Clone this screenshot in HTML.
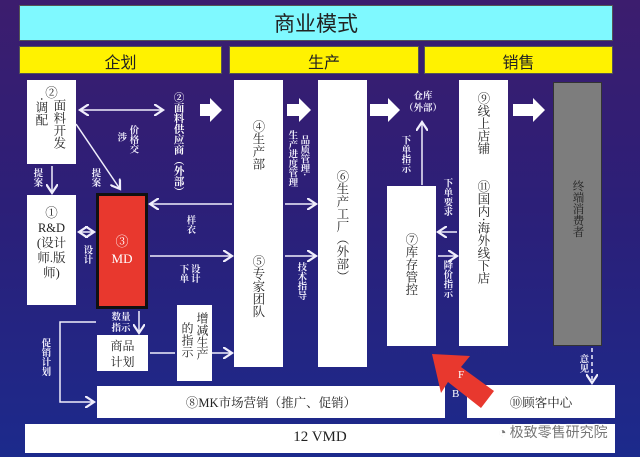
<!DOCTYPE html>
<html><head><meta charset="utf-8"><style>
*{margin:0;padding:0;box-sizing:border-box}
body{width:640px;height:457px;overflow:hidden;position:relative;
background:linear-gradient(180deg,#3c1d6e 0%,#2c1f78 45%,#1c2a8c 100%);
font-family:"Liberation Serif","Noto Serif CJK SC",serif;color:#222}
.a{position:absolute}
.box{position:absolute;background:#fff}
.v{position:absolute;writing-mode:vertical-rl;text-orientation:mixed;line-height:1.35;font-family:"Noto Serif CJK SC",serif}
.w{color:#f0eefc;font-size:9.5px;font-weight:bold;line-height:1.2}
.k{color:#222;font-size:12.5px}
svg{position:absolute;left:0;top:0}
</style></head><body>
<div class="box" style="left:19px;top:5px;width:594px;height:36px;background:#7ff9ff;border:1px solid #555"></div>
<div class="a" style="left:19px;top:8px;width:594px;text-align:center;font-size:21px;font-family:'Noto Sans CJK SC',sans-serif;color:#222">商业模式</div>
<div class="box" style="left:19px;top:46px;width:203px;height:28px;background:#fff200;border:1px solid #555"></div>
<div class="box" style="left:229px;top:46px;width:190px;height:28px;background:#fff200;border:1px solid #555"></div>
<div class="box" style="left:424px;top:46px;width:189px;height:28px;background:#fff200;border:1px solid #555"></div>
<div class="a" style="left:19px;top:49px;width:203px;text-align:center;font-size:16px;font-family:'Noto Sans CJK SC',sans-serif">企划</div>
<div class="a" style="left:229px;top:49px;width:190px;text-align:center;font-size:16px;font-family:'Noto Sans CJK SC',sans-serif">生产</div>
<div class="a" style="left:424px;top:49px;width:189px;text-align:center;font-size:16px;font-family:'Noto Sans CJK SC',sans-serif">销售</div>

<div class="box" style="left:27px;top:80px;width:49px;height:84px"></div>
<div class="box" style="left:27px;top:195px;width:49px;height:110px"></div>
<div class="box" style="left:96px;top:193px;width:52px;height:116px;background:#e8382e;border:3px solid #111"></div>
<div class="box" style="left:234px;top:80px;width:49px;height:287px"></div>
<div class="box" style="left:318px;top:80px;width:49px;height:287px"></div>
<div class="box" style="left:387px;top:186px;width:49px;height:160px"></div>
<div class="box" style="left:459px;top:80px;width:49px;height:266px"></div>
<div class="box" style="left:553px;top:82px;width:49px;height:264px;background:#7d7d7d;border:1px solid #333"></div>
<div class="box" style="left:97px;top:335px;width:51px;height:36px"></div>
<div class="box" style="left:177px;top:305px;width:35px;height:76px"></div>
<div class="box" style="left:97px;top:386px;width:348px;height:32px"></div>
<div class="box" style="left:467px;top:385px;width:148px;height:33px"></div>
<div class="box" style="left:25px;top:424px;width:590px;height:29px"></div>

<svg width="640" height="457">
<defs><marker id="m" markerWidth="8" markerHeight="8" refX="6" refY="4" orient="auto-start-reverse"><path d="M0,0 L6,4 L0,8" fill="none" stroke="#f0eefc" stroke-width="1.5"/></marker></defs>
<g fill="#fff">
<path d="M200,104 h10 v-6 l12,12 l-12,12 v-6 h-10z"/>
<path d="M287,104 h12 v-6 l12,12 l-12,12 v-6 h-12z"/>
<path d="M370,104 h18 v-6 l12,12 l-12,12 v-6 h-18z"/>
<path d="M513,104 h20 v-6 l12,12 l-12,12 v-6 h-20z"/>
</g>
<g stroke="#f0eefc" stroke-width="1.5" fill="none" marker-end="url(#m)">
<line x1="80" y1="110" x2="163" y2="110" marker-start="url(#m)"/>
<line x1="76" y1="124" x2="120" y2="189"/>
<line x1="52" y1="166" x2="52" y2="193"/>
<line x1="79" y1="232" x2="94" y2="232" marker-start="url(#m)"/>
<line x1="232" y1="204" x2="150" y2="204"/>
<line x1="150" y1="256" x2="232" y2="256"/>
<line x1="285" y1="204" x2="316" y2="204"/>
<line x1="285" y1="256" x2="316" y2="256"/>
<line x1="422" y1="185" x2="422" y2="122"/>
<line x1="457" y1="232" x2="438" y2="232"/>
<line x1="438" y1="256" x2="457" y2="256"/>
<line x1="139" y1="311" x2="139" y2="333"/>
<line x1="150" y1="353" x2="175" y2="353" marker-end="none"/>
<line x1="212" y1="353" x2="232" y2="353"/>
<polyline points="96,322 60,322 60,402 94,402"/>
<line x1="592" y1="348" x2="592" y2="383" stroke-dasharray="4,3"/>
</g>
<path d="M432,354 L470,356 L461,367 L494,391 L481,408 L448,382 L441,393 Z" fill="#e8382e"/>
<text x="458" y="378" fill="#fff" font-size="11" font-family="Liberation Serif">F</text>
<text x="452" y="397" fill="#fff" font-size="11" font-family="Liberation Serif">B</text>
</svg>

<div class="a k" style="left:27px;top:83px;width:49px;text-align:center">②</div>
<div class="v k" style="left:51px;top:99px">面料开发</div>
<div class="v k" style="left:33px;top:97px">·调配</div>
<div class="a k" style="left:27px;top:206px;width:49px;text-align:center;line-height:1.2;font-family:'Liberation Serif','Noto Serif CJK SC',serif">①<br>R&amp;D<br>(设计<br>师.版<br>师)</div>
<div class="a" style="left:96px;top:234px;width:52px;text-align:center;color:#fff;font-size:13px;line-height:1.3">③<br>MD</div>
<div class="v k" style="left:250px;top:120px">④生产部</div>
<div class="v k" style="left:250px;top:255px">⑤专家团队</div>
<div class="v k" style="left:334px;top:170px">⑥生产工厂（外部）</div>
<div class="v k" style="left:403px;top:233px">⑦库存管控</div>
<div class="v k" style="left:475px;top:92px">⑨线上店铺</div>
<div class="v k" style="left:475px;top:180px">⑪国内·海外线下店</div>
<div class="v" style="left:570px;top:180px;font-size:11.5px;color:#222">终端消费者</div>
<div class="a k" style="left:97px;top:338px;width:51px;text-align:center;line-height:1.35;font-family:'Noto Serif CJK SC',serif;font-size:12px">商品<br>计划</div>
<div class="v k" style="left:195px;top:312px;font-size:12px;line-height:1.25">增减生产</div>
<div class="v k" style="left:180px;top:322px;font-size:12px;line-height:1.25">的指示</div>
<div class="a k" style="left:97px;top:393px;width:348px;text-align:center;font-size:12.5px">⑧MK市场营销（推广、促销）</div>
<div class="a k" style="left:467px;top:393px;width:148px;text-align:center;font-size:12.5px">⑩顾客中心</div>
<div class="a" style="left:25px;top:429px;width:590px;text-align:center;font-size:15px;color:#222">12 VMD</div>

<div class="v w" style="left:172px;top:92px;font-size:10.5px;color:#fff">②面料供应商（外部）</div>
<div class="v w" style="left:128px;top:125px">价格交</div>
<div class="v w" style="left:116px;top:132px">涉</div>
<div class="v w" style="left:32px;top:168px">提案</div>
<div class="v w" style="left:90px;top:168px">提案</div>
<div class="v w" style="left:82px;top:245px">设计</div>
<div class="v w" style="left:185px;top:215px">样衣</div>
<div class="v w" style="left:178px;top:264px;height:24px">设计下单</div>
<div class="v w" style="left:299px;top:135px">品质管理·</div>
<div class="v w" style="left:287px;top:130px">生产进度管理</div>
<div class="v w" style="left:296px;top:262px">技术指导</div>
<div class="a w" style="left:403px;top:90px;width:40px;text-align:center;line-height:1.25;font-family:'Noto Serif CJK SC',serif">仓库<br>（外部）</div>
<div class="v w" style="left:400px;top:135px">下单指示</div>
<div class="v w" style="left:442px;top:178px">下单要求</div>
<div class="v w" style="left:442px;top:260px">降价指示</div>
<div class="a w" style="left:108px;top:311px;width:26px;text-align:center;font-family:'Noto Serif CJK SC',serif">数量<br>指示</div>
<div class="v w" style="left:40px;top:338px">促销计划</div>
<div class="v w" style="left:578px;top:354px">意见</div>
<div class="a" style="left:498px;top:422px;font-size:14px;color:#777;font-family:'Noto Sans CJK SC',sans-serif;text-shadow:0 0 2px #fff,0 0 2px #fff">◔ 极致零售研究院</div>
</body></html>
